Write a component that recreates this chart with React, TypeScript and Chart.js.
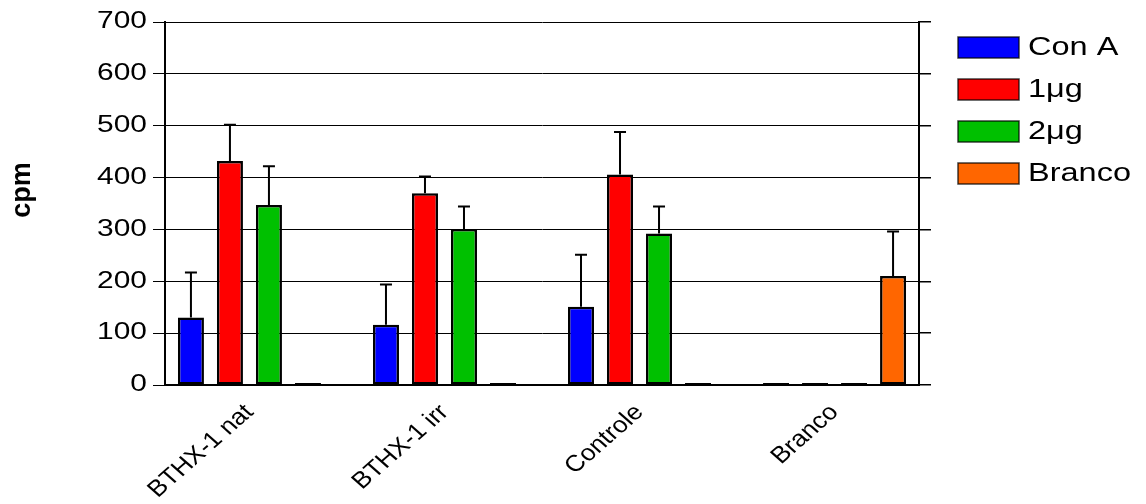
import React, { useEffect, useRef } from 'react';
import { Chart, registerables } from 'chart.js';

Chart.register(...registerables);

// ---- data ----
const categories = ['BTHX-1 nat', 'BTHX-1 irr', 'Controle', 'Branco'];
const seriesNames = ['Con A', '1\u03bcg', '2\u03bcg', 'Branco'];
const conA = [130, 116, 151, 0];
const conAErr = [87, 78, 100, 0];
const oneUg = [432, 370, 406, 0];
const oneUgErr = [70, 32, 82, 0];
const twoUg = [347, 301, 292, 0];
const twoUgErr = [75, 43, 52, 0];
const branco = [0, 0, 0, 210];
const brancoErr = [0, 0, 0, 86];
const seriesColors = ['#0000FF', '#FF0000', '#00C000', '#FF6600'];
const yMax = 700;
const yStep = 100;

const seriesValues = [conA, oneUg, twoUg, branco];
const seriesErrors = [conAErr, oneUgErr, twoUgErr, brancoErr];

const FONT = '"Liberation Sans", Arial, Helvetica, sans-serif';

// Draw text horizontally stretched (in screen space) by factor k around its anchor point
function withStretchedText(ctx: any, k: number, fn: () => void) {
  const orig = ctx.fillText;
  ctx.fillText = function (text: string, x: number, y: number) {
    const M = ctx.getTransform();
    const p = M.transformPoint(new DOMPoint(x, y));
    const S = new DOMMatrix().translate(p.x, p.y).scale(k, 1).translate(-p.x, -p.y).multiply(M);
    ctx.save();
    ctx.setTransform(S);
    orig.call(ctx, text, x, y);
    ctx.restore();
  };
  try {
    fn();
  } finally {
    ctx.fillText = orig;
  }
}

const stretchPlugin = {
  id: 'stretchLabels',
  beforeDraw(chart: any) {
    const spec: [string, number][] = [['x', 1.14], ['y', 1.3]];
    for (const [id, k] of spec) {
      const s = chart.scales[id];
      if (s && !s.__wrapped) {
        const orig = s.drawLabels;
        s.drawLabels = function (area: any) {
          withStretchedText(this.ctx, k, () => orig.call(this, area));
        };
        s.__wrapped = true;
      }
    }
  },
};

const errorBarPlugin = {
  id: 'errorBars',
  afterDatasetsDraw(chart: any) {
    const ctx = chart.ctx;
    const yS = chart.scales.y;
    chart.data.datasets.forEach((ds: any, k: number) => {
      const meta = chart.getDatasetMeta(k);
      meta.data.forEach((bar: any, i: number) => {
        const e = ds.errors[i];
        const v = ds.data[i].y;
        if (!e) return;
        const top = yS.getPixelForValue(v + e);
        const half = 6;
        ctx.save();
        ctx.strokeStyle = '#000';
        ctx.lineWidth = 2;
        ctx.beginPath();
        ctx.moveTo(bar.x, bar.y);
        ctx.lineTo(bar.x, top);
        ctx.moveTo(bar.x - half, top);
        ctx.lineTo(bar.x + half, top);
        ctx.stroke();
        ctx.restore();
      });
    });
  },
};

const textPlugin = {
  id: 'titleAndLegend',
  afterDraw(chart: any) {
    const ctx = chart.ctx;
    const area = chart.chartArea;
    // y axis title
    ctx.save();
    ctx.translate(23, 190);
    ctx.rotate(-Math.PI / 2);
    ctx.font = 'bold 27px ' + FONT;
    ctx.fillStyle = '#000';
    ctx.textAlign = 'center';
    ctx.textBaseline = 'middle';
    ctx.fillText('cpm', 0, 0);
    ctx.restore();

    // legend
    const boxX = area.right + 39;
    const boxW = 61;
    const boxH = 21;
    const startY = 37;
    const stepY = 42;
    chart.data.datasets.forEach((ds: any, k: number) => {
      const y0 = startY + k * stepY;
      ctx.save();
      ctx.fillStyle = ds.backgroundColor;
      ctx.fillRect(boxX, y0, boxW, boxH);
      ctx.strokeStyle = 'rgba(0,0,0,0.75)';
      ctx.lineWidth = 1.5;
      ctx.strokeRect(boxX, y0, boxW, boxH);
      ctx.fillStyle = '#000';
      ctx.font = '25px ' + FONT;
      ctx.textAlign = 'left';
      ctx.textBaseline = 'middle';
      withStretchedText(ctx, 1.3, () => ctx.fillText(ds.label, boxX + boxW + 9, y0 + boxH / 2 + 1));
      ctx.restore();
    });
  },
};

export default function App() {
  const ref = useRef<HTMLCanvasElement | null>(null);

  useEffect(() => {
    if (!ref.current) return;
    const chart = new Chart(ref.current, {
      type: 'bar',
      data: {
        datasets: seriesNames.map((name, k) => ({
          label: name,
          data: seriesValues[k].map((v, i) => ({ x: i, y: v })),
          errors: seriesErrors[k],
          backgroundColor: seriesColors[k],
          borderColor: '#000',
          borderWidth: 2.5,
          borderSkipped: false,
          minBarLength: 2,
          categoryPercentage: 0.8,
          barPercentage: 0.667,
        })) as any,
      },
      options: {
        animation: false,
        responsive: false,
        events: [],
        layout: { padding: { top: 22, right: 215, left: 0, bottom: 0 } },
        font: { family: FONT },
        plugins: {
          legend: { display: false },
          tooltip: { enabled: false },
        },
        scales: {
          x: {
            type: 'linear',
            min: -0.433,
            max: 3.433,
            offset: false,
            grid: { display: false, drawTicks: false, offset: false },
            border: { display: true, color: '#000', width: 2 },
            ticks: {
              stepSize: 1,
              includeBounds: false,
              autoSkip: false,
              minRotation: 45,
              maxRotation: 45,
              padding: 14,
              color: '#000',
              font: { family: FONT, size: 23 },
              callback: (v: any) => (Number.isInteger(v) ? categories[v] ?? '' : ''),
            },
            afterFit: (s: any) => {
              s.height = 119;
            },
          } as any,
          y: {
            min: 0,
            max: yMax,
            ticks: {
              stepSize: yStep,
              padding: 6,
              color: '#000',
              font: { family: FONT, size: 23 },
            },
            grid: { color: '#000', lineWidth: 1, tickLength: 12, drawTicks: true },
            border: { color: '#000', width: 2 },
            afterFit: (s: any) => {
              s.width = 165;
            },
          } as any,
          y2: {
            position: 'right',
            min: 0,
            max: yMax,
            ticks: { stepSize: yStep, display: false },
            grid: { drawOnChartArea: false, color: '#000', lineWidth: 1.5, tickLength: 12 },
            border: { color: '#000', width: 2 },
            afterFit: (s: any) => {
              s.width = 12;
            },
          } as any,
        },
      } as any,
      plugins: [stretchPlugin, errorBarPlugin, textPlugin],
    });
    return () => chart.destroy();
  }, []);

  return (
    <div style={{ position: 'fixed', left: 0, top: 0, width: 1146, height: 504, background: '#fff' }}>
      <canvas ref={ref} width={1146} height={504} style={{ display: 'block' }} />
    </div>
  );
}
